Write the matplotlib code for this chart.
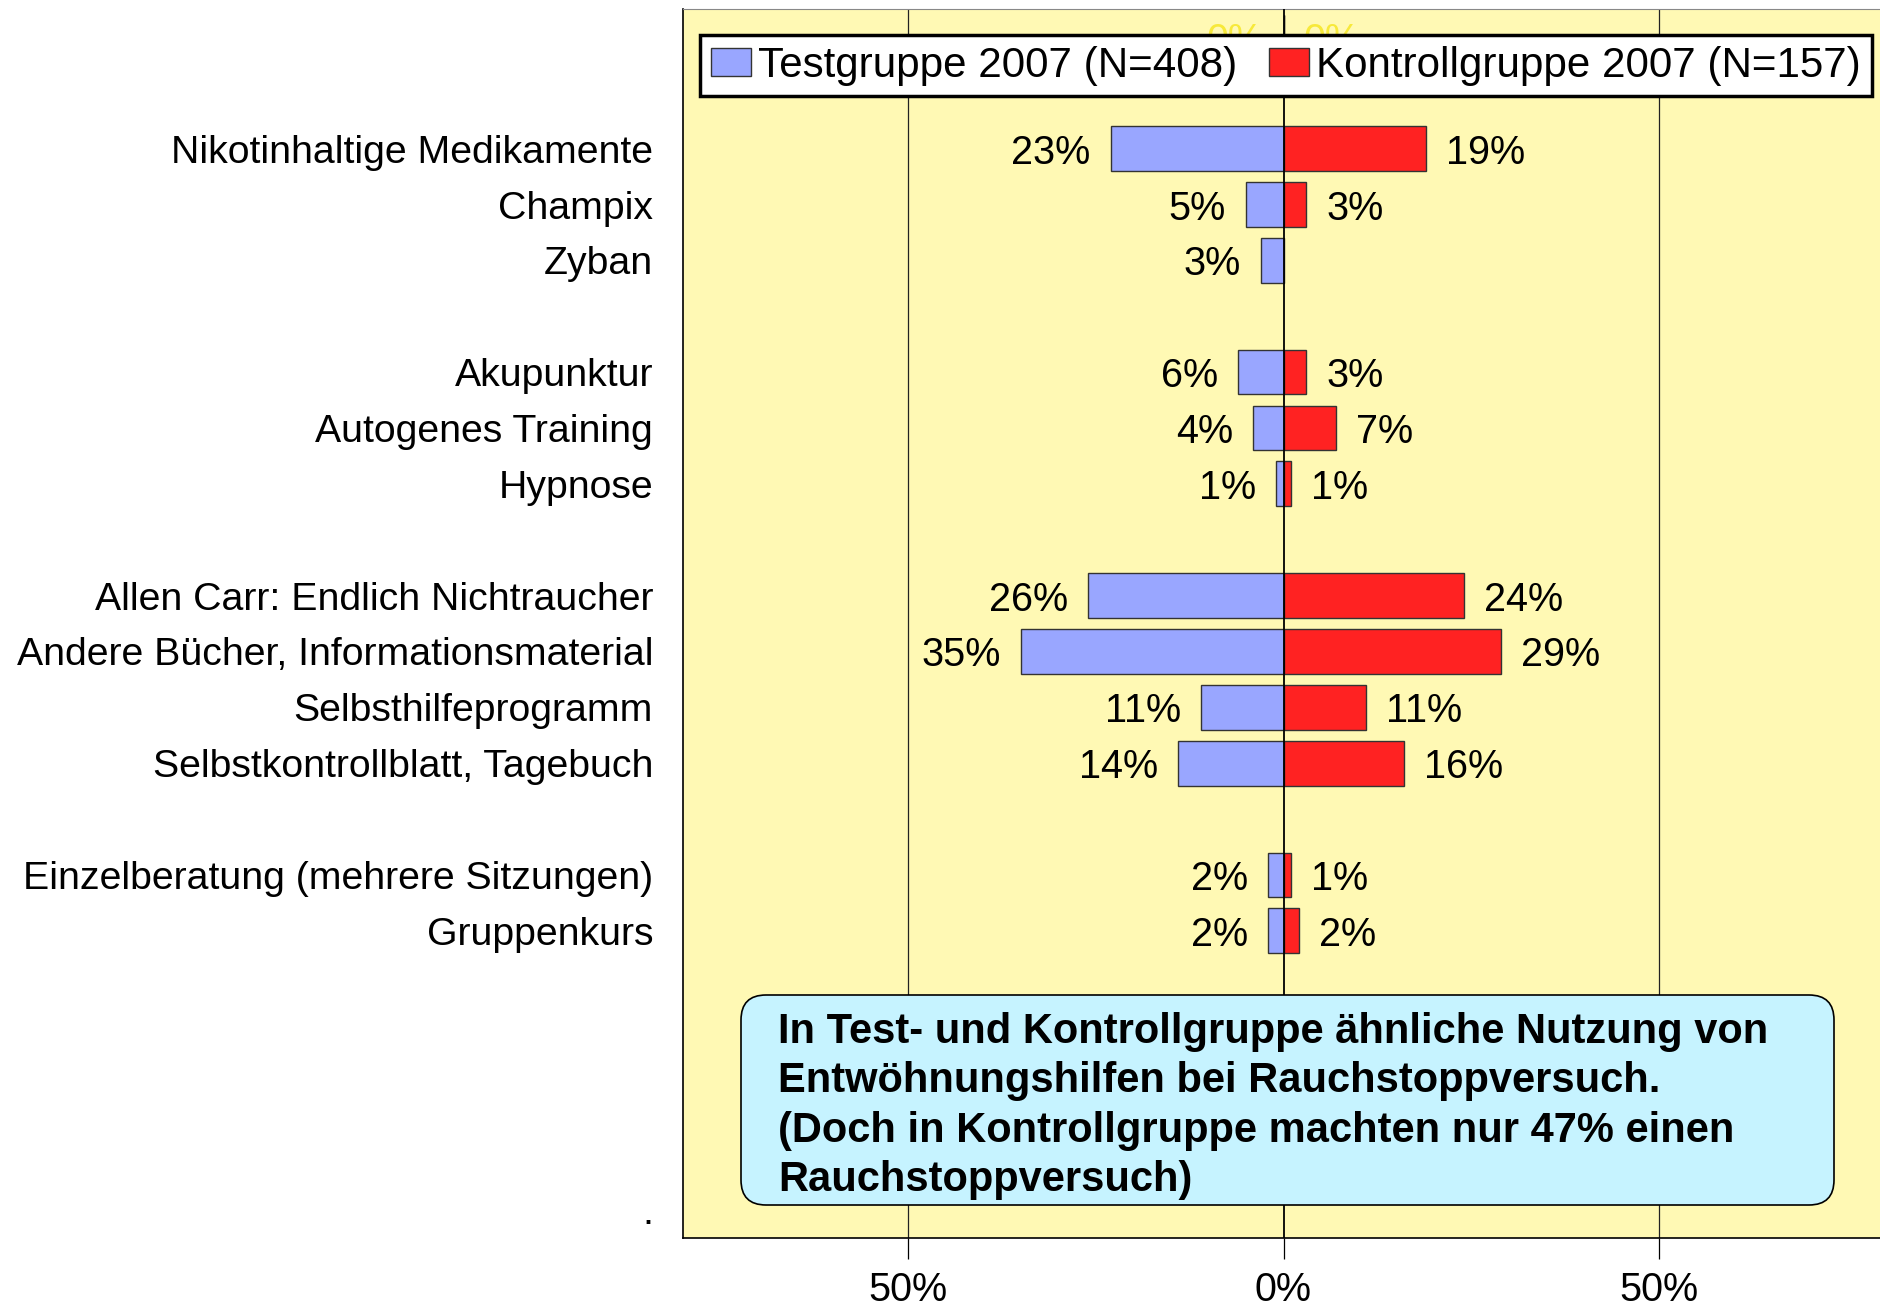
import numpy as np
import matplotlib
matplotlib.use('Agg')
import matplotlib.pyplot as plt
from matplotlib.patches import FancyBboxPatch, Patch

plt.rcParams['font.family'] = ['Liberation Sans', 'DejaVu Sans']

# data (empty strings = spacer rows, first row is a hidden header row)
categories = ['', '', 'Nikotinhaltige Medikamente', 'Champix', 'Zyban', '',
              'Akupunktur', 'Autogenes Training', 'Hypnose', '',
              'Allen Carr: Endlich Nichtraucher', 'Andere Bücher, Informationsmaterial',
              'Selbsthilfeprogramm', 'Selbstkontrollblatt, Tagebuch', '',
              'Einzelberatung (mehrere Sitzungen)', 'Gruppenkurs', '', '', '', '', '.']
test_2007 = [0, None, 23, 5, 3, None, 6, 4, 1, None, 26, 35, 11, 14, None, 2, 2,
             None, None, None, None, None]
kontroll_2007 = [0, None, 19, 3, None, None, 3, 7, 1, None, 24, 29, 11, 16, None, 1, 2,
                 None, None, None, None, None]
xticks = [-50, 0, 50]
xtick_labels = ['50%', '0%', '50%']
note = ('In Test- und Kontrollgruppe ähnliche Nutzung von\n'
        'Entwöhnungshilfen bei Rauchstoppversuch.\n'
        '(Doch in Kontrollgruppe machten nur 47% einen\n'
        'Rauchstoppversuch)')

blue = '#99a6ff'
red = '#ff2222'
bg = '#fff9b4'

fig = plt.figure(figsize=(18.8, 13.06), dpi=100)
ax = fig.add_axes([683 / 1880, 68 / 1306, 1201 / 1880, 1229 / 1306])
ax.set_facecolor(bg)

y = np.arange(len(categories))
t = np.array([np.nan if v is None else v for v in test_2007], dtype=float)
k = np.array([np.nan if v is None else v for v in kontroll_2007], dtype=float)

ax.barh(y, -t, height=0.8, color=blue, edgecolor='#333333', linewidth=1, zorder=3)
ax.barh(y, k, height=0.8, color=red, edgecolor='#333333', linewidth=1, zorder=3)

for i in range(len(categories)):
    col = '#f7e93a' if i == 0 else 'black'
    if not np.isnan(t[i]):
        ax.annotate('%d%%' % t[i], (-t[i], y[i]), xytext=(-14.5, 0),
                    textcoords='offset points', ha='right', va='center_baseline',
                    fontsize=28.5, color=col, zorder=2 if i == 0 else 4)
    if not np.isnan(k[i]):
        ax.annotate('%d%%' % k[i], (k[i], y[i]), xytext=(14.5, 0),
                    textcoords='offset points', ha='left', va='center_baseline',
                    fontsize=28.5, color=col, zorder=2 if i == 0 else 4)

# grid lines
for xv in [-50, 50]:
    ax.axvline(xv, color='#222222', linewidth=0.9, zorder=1)
ax.axvline(0, color='black', linewidth=1.3, zorder=5)

ax.set_xlim(-80, 80)
ax.set_ylim(len(categories) - 0.5, -0.5)
ax.set_yticks(y)
ax.set_yticklabels(categories, fontsize=28.3)
ax.tick_params(axis='y', length=0, pad=21.5)
ax.set_xticks(xticks)
ax.set_xticklabels(xtick_labels, fontsize=28.5)
ax.tick_params(axis='x', direction='out', length=15, width=0.9, pad=9)

ax.spines['left'].set_color('black')
ax.spines['left'].set_linewidth(1.2)
ax.spines['bottom'].set_color('black')
ax.spines['bottom'].set_linewidth(1.2)
ax.spines['top'].set_color('#888888')
ax.spines['right'].set_visible(False)

# legend
handles = [Patch(facecolor=blue, edgecolor='#333333', label='Testgruppe 2007 (N=408)'),
           Patch(facecolor=red, edgecolor='#333333', label='Kontrollgruppe 2007 (N=157)')]
leg = ax.legend(handles=handles, ncol=2, loc='upper left',
                bbox_to_anchor=(700 / 1880, 1 - 35 / 1306), bbox_transform=fig.transFigure,
                fontsize=30.3, frameon=True, fancybox=False, framealpha=1,
                edgecolor='black', handlelength=0.95, handleheight=0.65,
                handletextpad=0.18, columnspacing=0.75, borderpad=0.25,
                borderaxespad=0)
leg.get_frame().set_linewidth(2.5)
leg.set_zorder(10)

# note box
box = FancyBboxPatch((7.41, 1.01), 10.93, 2.10, boxstyle='round,pad=0,rounding_size=0.25',
                     transform=fig.dpi_scale_trans, facecolor='#c6f3ff',
                     edgecolor='black', linewidth=1.2, zorder=6)
fig.patches.append(box)
fig.text(7.78 / 18.8, 2.00 / 13.06, note, ha='left', va='center', fontsize=30,
         fontweight='bold', linespacing=1.3, zorder=7)

fig.savefig('out.png', dpi=100, facecolor='white')
